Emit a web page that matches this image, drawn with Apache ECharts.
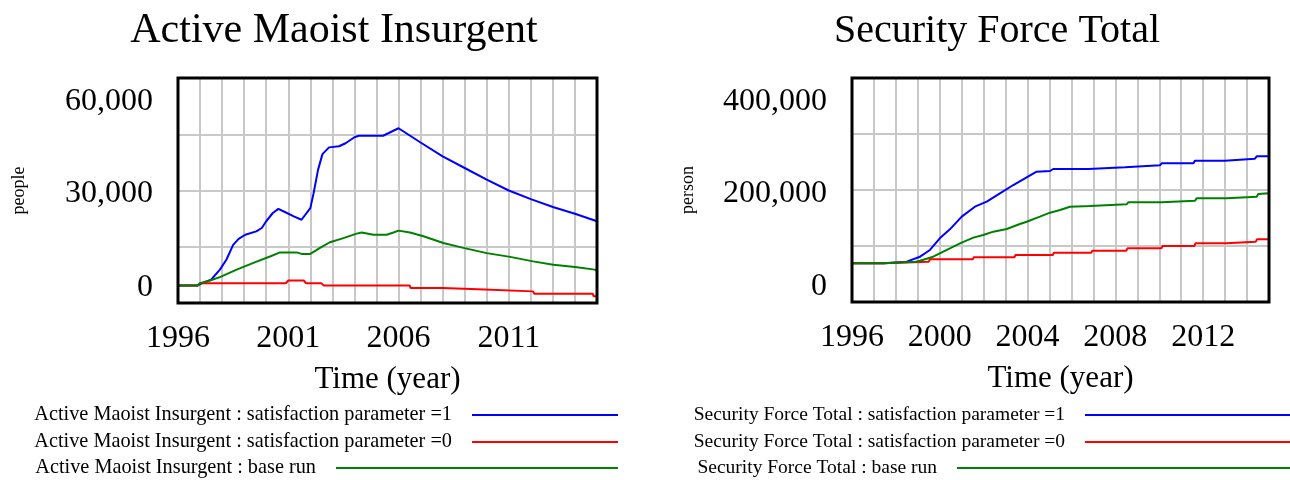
<!DOCTYPE html>
<html>
<head>
<meta charset="utf-8">
<script src="https://cdn.jsdelivr.net/npm/echarts@6/dist/echarts.min.js"></script>
<style>
  html, body { margin: 0; padding: 0; background: #fff; }
  #chart { width: 1290px; height: 480px; }
</style>
</head>
<body>
<div id="chart"></div>
<script>
// Active Maoist Insurgent (people), [year, value]
const insurgentSat1 = [[1996,4700],[1996.9,4700],[1997.1,5300],[1997.5,6200],[1997.9,8900],[1998.2,11600],[1998.5,15500],[1998.75,17100],[1999.05,18200],[1999.55,19100],[1999.8,20000],[2000,21800],[2000.3,24000],[2000.55,25100],[2000.8,24400],[2001.25,23100],[2001.6,22200],[2002,25300],[2002.15,29300],[2002.35,35500],[2002.55,39700],[2002.85,41500],[2003.3,41800],[2003.6,42600],[2004,44200],[2004.2,44600],[2005.3,44600],[2006,46600],[2007,42800],[2008,39100],[2009,36000],[2010,32900],[2011,30000],[2012,27700],[2013,25600],[2014,23800],[2015,21800]]
const insurgentSat0 = [[1996,4700],[1996.9,4700],[1997,5300],[2000.9,5300],[2001,6000],[2001.7,6000],[2001.8,5300],[2002.5,5300],[2002.6,4700],[2006.5,4700],[2006.55,4000],[2008,4000],[2008.05,3600],[2009.9,3600],[2009.95,3100],[2012.1,3100],[2012.15,2500],[2014.8,2500],[2014.85,1800],[2015,1800]]
const insurgentBase = [[1996,4700],[1996.9,4700],[1997,5300],[1997.45,6000],[1997.9,6900],[1998.66,8900],[1999.42,10700],[2000.17,12400],[2000.63,13500],[2001.38,13500],[2001.6,13100],[2002,13100],[2002.44,14700],[2002.89,16200],[2003.5,17300],[2004.1,18500],[2004.33,18800],[2004.86,18200],[2005.46,18200],[2005.77,18800],[2006,19300],[2006.52,18800],[2007.13,17800],[2008.03,16000],[2008.94,14700],[2010,13300],[2011.06,12300],[2012.1,11100],[2013.02,10200],[2014,9600],[2014.9,8900],[2015,8600]]

// Security Force Total (person), [year, value]
const forceSat1 = [[1996,69000],[1997.43,69000],[1997.5,72000],[1998.49,72000],[1999.1,80900],[1999.55,92900],[2000,113700],[2000.46,129800],[2001,152400],[2001.6,170200],[2002.14,179200],[2002.74,194000],[2003.35,208900],[2003.88,220800],[2004.41,232700],[2005.02,233900],[2005.17,237500],[2006.77,237500],[2006.84,240500],[2008.44,240500],[2008.51,244000],[2010.03,244000],[2010.11,247600],[2011.55,247600],[2011.63,252400],[2012.99,252400],[2013.07,255900],[2014.36,255900],[2014.44,260100],[2015,260100]]
const forceSat0 = [[1996,69000],[1997.45,69000],[1997.5,72000],[1999.5,72000],[1999.55,76200],[2001.5,76200],[2001.55,79800],[2003.4,79800],[2003.45,83900],[2005.15,83900],[2005.2,88100],[2006.9,88100],[2006.95,91700],[2008.5,91700],[2008.55,95800],[2010.1,95800],[2010.15,100000],[2011.6,100000],[2011.65,104800],[2013.05,104800],[2013.1,107700],[2014.4,107700],[2014.45,111900],[2015,111900]]
const forceBase = [[1996,69000],[1997.45,69000],[1997.5,72000],[1998.9,72000],[1999.1,73800],[1999.7,80900],[2000,86900],[2000.46,95800],[2000.92,104800],[2001.53,114900],[2001.98,119600],[2002.44,125600],[2003.05,130300],[2003.65,139300],[2003.96,143400],[2004.56,152400],[2005.02,159500],[2005.48,164300],[2005.93,170200],[2006.84,171400],[2006.92,174400],[2008.51,174400],[2008.59,178000],[2010.11,178000],[2010.18,180900],[2011.63,180900],[2011.7,185100],[2013.07,185100],[2013.15,188100],[2014.44,188100],[2014.51,192800],[2015,194000]]

const leftNames = [
  'Active Maoist Insurgent : satisfaction parameter =1',
  'Active Maoist Insurgent : satisfaction parameter =0',
  'Active Maoist Insurgent : base run'
]
const rightNames = [
  'Security Force Total : satisfaction parameter =1',
  'Security Force Total : satisfaction parameter =0',
  'Security Force Total : base run'
]
const colors = ['#0000ff', '#ff0000', '#008000']

const serif = '"Liberation Serif", "Times New Roman", serif'

function yLabels(max, pad) {
  const style = p => ({ fontSize: 32, fontFamily: serif, color: '#000', padding: p })
  return {
    margin: 25,
    formatter: v => {
      const s = v.toLocaleString('en-US')
      if (v === max) return '{t|' + s + '}'
      if (v === max / 2) return '{m|' + s + '}'
      if (v === 0) return '{b|' + s + '}'
      return ''
    },
    rich: { t: style([48, 0, 0, 0]), m: style(pad), b: style([0, 0, 30, 0]) }
  }
}

function xAxis(idx, step) {
  return {
    type: 'value', gridIndex: idx, min: 1996, max: 2015, interval: 1,
    axisLine: { show: false }, axisTick: { show: false },
    splitLine: { show: true, lineStyle: { color: '#c8c8c8', width: 2 } },
    axisLabel: {
      margin: 20, fontSize: 32, fontFamily: serif, color: '#000',
      formatter: v => ((v - 1996) % step === 0 ? String(v) : '')
    },
    name: 'Time (year)', nameLocation: 'middle', nameGap: 61,
    nameTextStyle: { fontSize: 31, fontFamily: serif, color: '#000' }
  }
}

function yAxis(idx, max, unit, gap, pad) {
  return {
    type: 'value', gridIndex: idx, min: 0, max: max, interval: max / 4,
    axisLine: { show: false }, axisTick: { show: false },
    splitLine: { show: true, lineStyle: { color: '#c8c8c8', width: 2 } },
    axisLabel: yLabels(max, pad),
    name: unit, nameLocation: 'middle', nameGap: gap, nameRotate: 90,
    nameTextStyle: { fontSize: 18, fontFamily: serif, color: '#000' }
  }
}

function line(name, data, i, idx) {
  return {
    name: name, type: 'line', xAxisIndex: idx, yAxisIndex: idx,
    data: data, symbol: 'none', color: colors[i],
    lineStyle: { color: colors[i], width: 2 }
  }
}

function legendRow(name, right, top, width, size) {
  return {
    data: [name], right: right, top: top, padding: 0, align: 'right',
    icon: 'rect', itemWidth: width, itemHeight: 2,
    textStyle: { fontSize: size, fontFamily: serif, color: '#000', padding: [0, 15, 0, 0] }
  }
}

const rowTops = [405, 432, 458]

const chart = echarts.init(document.getElementById('chart'))
chart.setOption({
  animation: false,
  title: [
    { text: 'Active Maoist Insurgent', left: 334, top: 31, padding: 0, textAlign: 'center', textVerticalAlign: 'middle',
      textStyle: { fontSize: 42, fontWeight: 'normal', fontFamily: serif, color: '#000' } },
    { text: 'Security Force Total', left: 997, top: 31, padding: 0, textAlign: 'center', textVerticalAlign: 'middle',
      textStyle: { fontSize: 40, fontWeight: 'normal', fontFamily: serif, color: '#000' } }
  ],
  grid: [
    { left: 178, top: 78, width: 419, height: 225, show: true, z: 5, borderColor: '#000', borderWidth: 3 },
    { left: 852, top: 78, width: 417, height: 224, show: true, z: 5, borderColor: '#000', borderWidth: 3 }
  ],
  xAxis: [xAxis(0, 5), xAxis(1, 4)],
  yAxis: [yAxis(0, 60000, 'people', 150, [6, 0, 0, 0]), yAxis(1, 400000, 'person', 155, [7, 0, 0, 0])],
  legend: [
    legendRow(leftNames[0], 672, rowTops[0], 146, 20.3),
    legendRow(leftNames[1], 672, rowTops[1], 146, 20.3),
    legendRow(leftNames[2], 672, rowTops[2], 282, 20.3),
    legendRow(rightNames[0], 0, rowTops[0], 205, 19.5),
    legendRow(rightNames[1], 0, rowTops[1], 205, 19.5),
    legendRow(rightNames[2], 0, rowTops[2], 333, 19.5)
  ],
  series: [
    line(leftNames[0], insurgentSat1, 0, 0),
    line(leftNames[1], insurgentSat0, 1, 0),
    line(leftNames[2], insurgentBase, 2, 0),
    line(rightNames[0], forceSat1, 0, 1),
    line(rightNames[1], forceSat0, 1, 1),
    line(rightNames[2], forceBase, 2, 1)
  ]
})
</script>
</body>
</html>
